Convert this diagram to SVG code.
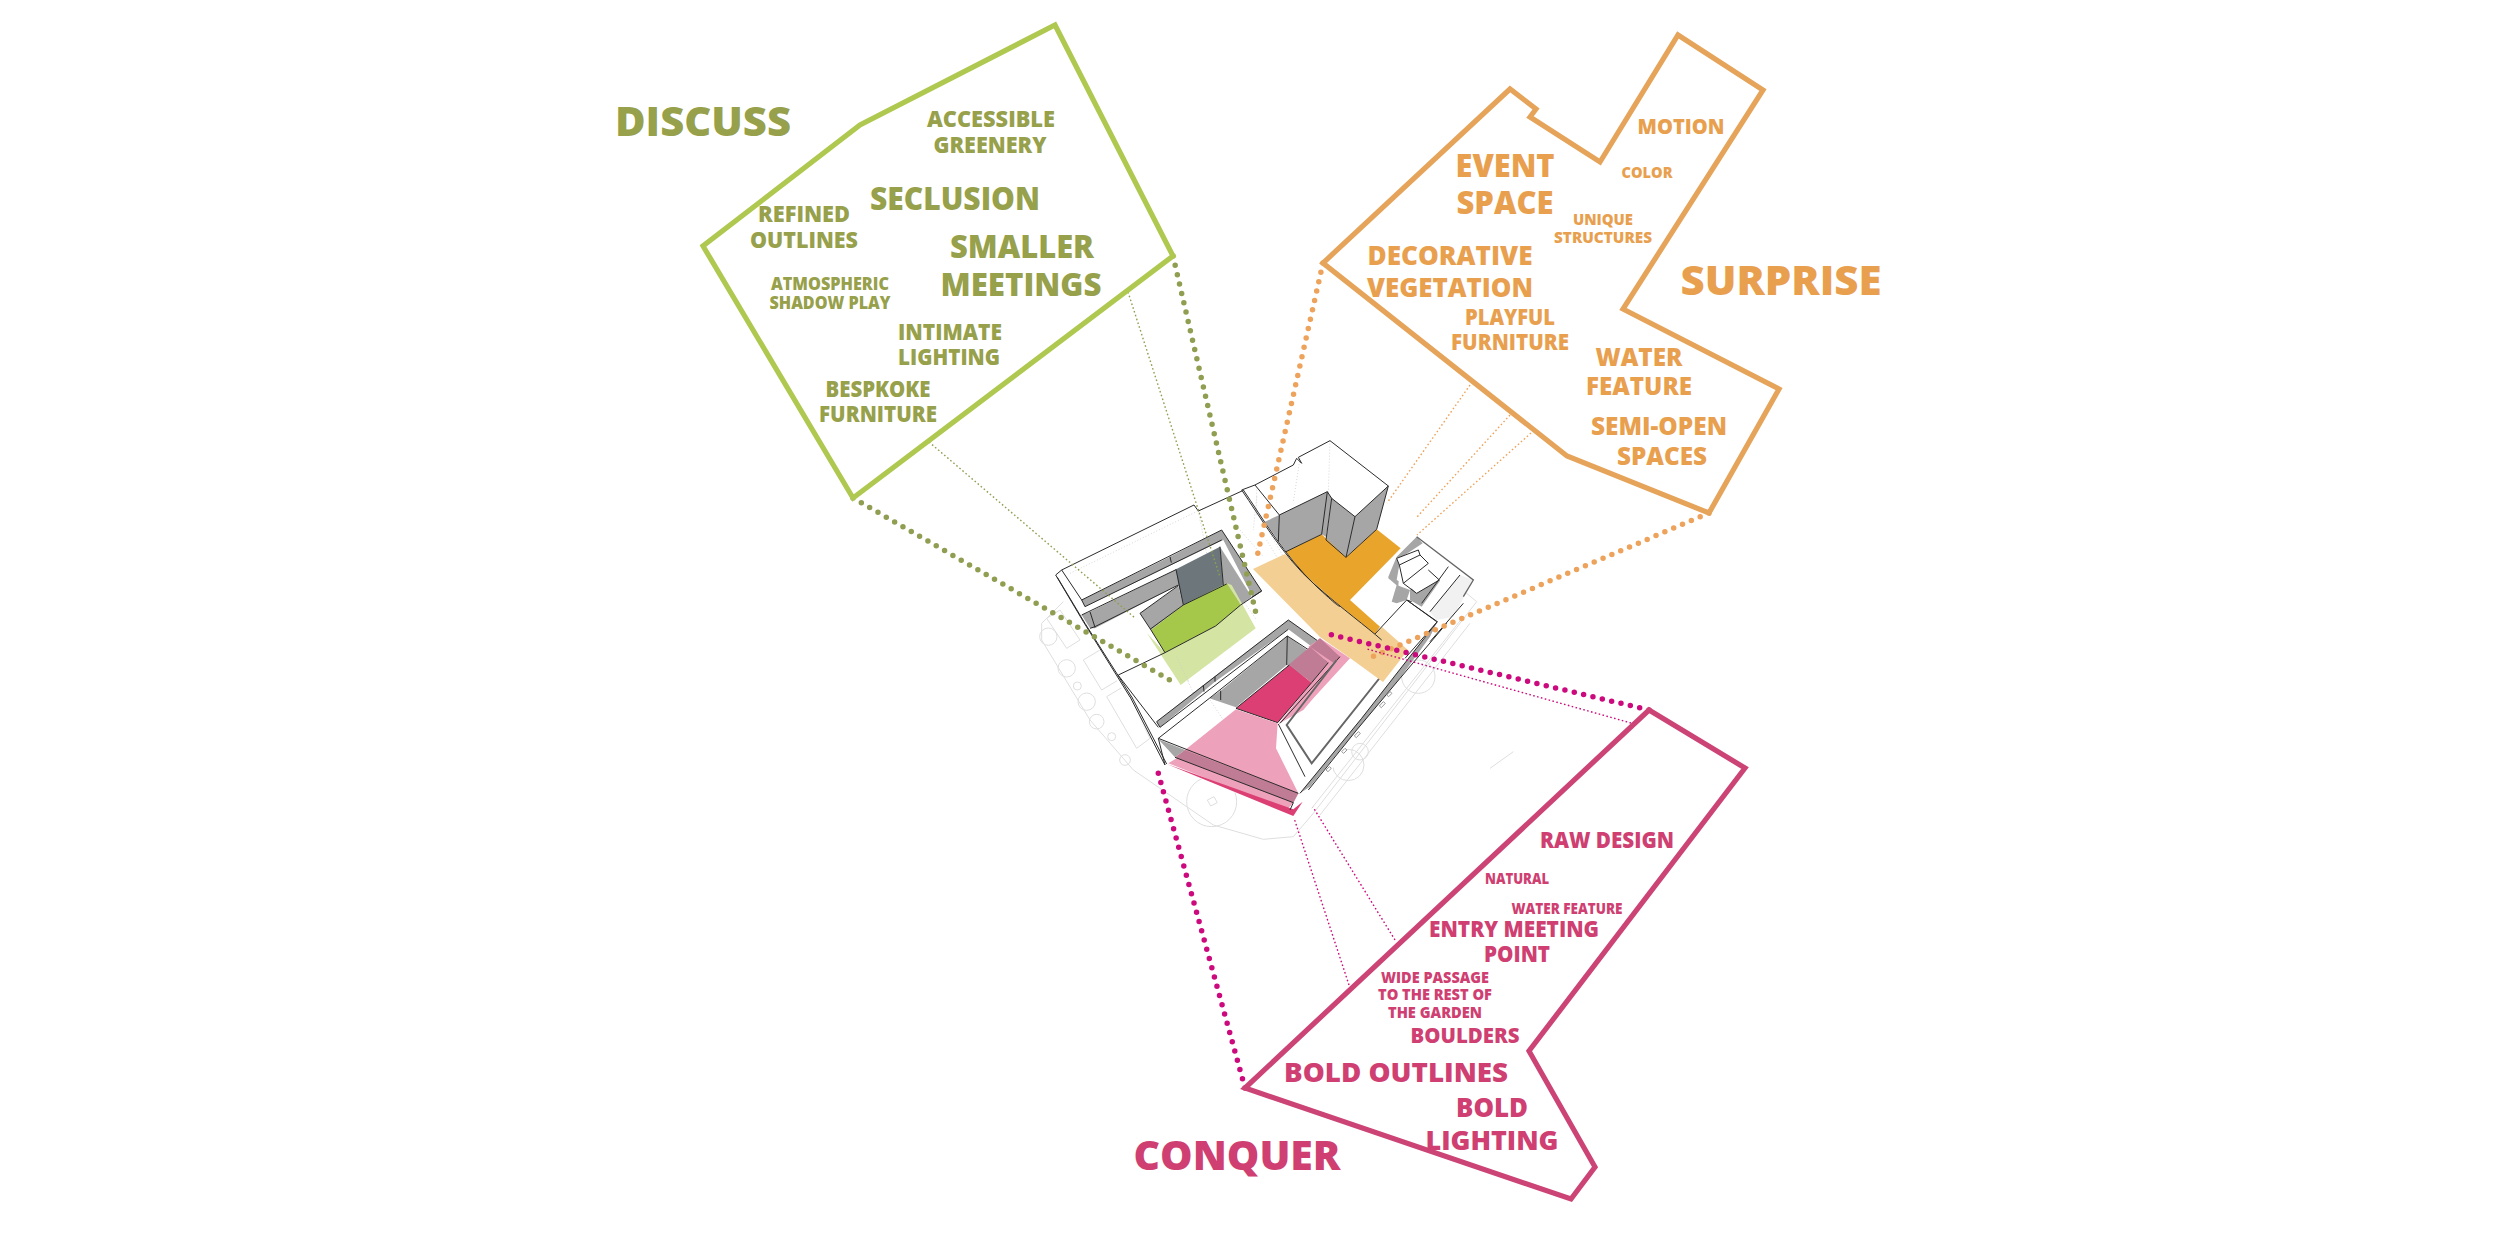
<svg xmlns="http://www.w3.org/2000/svg" width="2500" height="1250" viewBox="0 0 2500 1250">
<style>
text{font-family:"Open Sans","Noto Sans","Liberation Sans",sans-serif;font-weight:800;text-anchor:middle}
.g text{fill:#97a04a}.o text{fill:#e8a04f}.p text{fill:#cf3f72}
.frame{fill:none;stroke-width:5.2;stroke-linejoin:miter}
.g .frame{stroke:#afc850}.o .frame{stroke:#e5a45a}.p .frame{stroke:#cc4475}
.s40{font-size:40px}.s32{font-size:32px}.s31{font-size:31px}.s27{font-size:27px}.s25{font-size:25.5px}.s23{font-size:23px}.s22{font-size:22.5px}.s21{font-size:21.5px}.s17{font-size:17.5px}.s16{font-size:16.5px}.s15{font-size:15px}
.heavy{fill:none;stroke-width:5.5;stroke-linecap:round;stroke-dasharray:0 9.6}
.thin{fill:none;stroke-width:1.4;stroke-dasharray:1.6 2.4}
.cg{stroke:#8f9e50}.co{stroke:#eda35c}.cp{stroke:#cc0a7d}
.ug{fill:none;stroke:#dedede;stroke-width:3}
.k{fill:none;stroke:#2a2a2a;stroke-width:3;stroke-linejoin:round}
.kk{fill:none;stroke:#666;stroke-width:6;stroke-linejoin:miter}
.gh{fill:none;stroke:#cfcfcf;stroke-width:2.5;stroke-dasharray:3 6}
.gr{fill:#a6a6a6}.sl{fill:#6d777b}.w{fill:#fff}.f{fill:#f1f1f1}
</style>
<g id="site-plan">
<g id="underlay" class="ug" transform="translate(1000 420) scale(0.33333)">
<path d="M190 545L125 610L125 660L270 900L400 1050L640 1215L790 1258L880 1250L940 1180L1430 545L1140 305"/>
<path d="M935 1165L1390 590M960 1185L1410 610"/>
<circle cx="145" cy="650" r="26"/><circle cx="200" cy="745" r="26"/><circle cx="260" cy="845" r="26"/><circle cx="290" cy="905" r="22"/><circle cx="335" cy="950" r="12"/><circle cx="375" cy="1020" r="16"/><circle cx="232" cy="798" r="12"/>
<circle cx="635" cy="1145" r="75"/><circle cx="1045" cy="1035" r="47"/><circle cx="1080" cy="995" r="25"/><circle cx="1255" cy="770" r="50"/>
<path d="M622 1140l20-10 10 18-20 10zM180 570l60 90-40 25-60-90zM250 720l50-30 55 90-50 30zM320 830l50-30 80 155-40 30zM1470 1045l70-50"/>
</g>
<path class="w" d="M1056 575L1194 506L1200 510L1243 490L1297 465L1297 457L1330 441L1388 486L1417 537L1473 566L1474 582L1437 620L1300 815L1293 816L1166 765Z"/>
<g id="west-court" transform="translate(1050 490) scale(0.33333)">
<path class="gh" d="M445 63L470 190M620 20L610 120M485 200L620 390M60 250L470 50M620 60L700 200M405 480L415 580M490 420L480 520"/>
<path class="gr" d="M95 330L360 200L515 120L635 303L608 320L520 150L105 350Z"/>
<path class="k" d="M17 255L35 240L432 45L445 63L578 2M35 240L95 330L105 350L515 150M95 330L515 120L635 303L605 322M360 200L364 218M17 255L100 395L240 621M22 262L105 400L245 621"/>
<path class="gr" d="M95 375L120 365L380 238L385 285L135 415L120 415Z"/>
<path class="k" d="M95 375L380 238M120 415L135 410L385 285M120 365L135 412"/>
<path class="sl" d="M378 238L510 170L520 285L400 345L385 285Z"/>
<path class="gr" d="M510 170L605 320L572 345L520 280Z"/>
<path class="gr" d="M270 370L385 288L400 345L303 420Z"/>
<path fill="#d3e4a3" d="M290 428L345 488L497 408L572 345L530 280L545 285L617 415L392 585Z"/>
<path fill="#a6c84a" d="M303 420L400 345L530 280L572 345L497 408L345 488Z"/>
<path class="k" d="M270 370L303 420L345 488M270 370L385 287M378 238L400 345M510 170L520 285M345 488L497 408L572 345L635 303M205 555L345 488M300 418L400 345L530 282"/>
</g>
<g id="south-court" transform="translate(1130 620) scale(0.33333)">
<path class="gh" d="M240 240L300 330M300 310L430 345M140 110L200 240M400 350L390 480"/>
<path class="gr" d="M80 305L220 195L475 0L630 110L610 128L475 28L255 185L90 322Z"/>
<path class="gr" d="M238 235L272 212L472 48L470 135L318 262Z"/>
<path class="gr" d="M472 48L545 100L595 128L545 185L470 135Z"/>
<path class="k" d="M-36 165L85 322M80 305L90 322M80 305L475 0L630 110M90 322L475 28M238 235L472 48L470 135M472 48L595 128M272 212L272 240M220 195L222 215M255 185L255 170"/>
<path class="k" d="M0 230L105 435M5 230L110 432"/>
<path fill="#eea1ba" d="M570 55L660 115L550 235L520 270L445 312L545 188L595 128L535 80Z"/>
<path fill="#bf7c94" d="M478 133L540 80L595 128L545 188Z"/>
<path fill="#bf7c94" d="M570 55L630 110L610 128L540 80Z"/>
<path fill="#dc3f74" d="M318 265L478 135L545 188L443 308Z"/>
<path class="k" d="M318 265L478 135M545 188L443 308L318 265M595 128L545 188M630 110L450 310"/>
<path fill="#eea1ba" d="M165 390L318 268L443 310L438 385L505 520L490 548L470 570L115 430L140 415Z"/>
<path class="gr" d="M85 358L165 390L135 412L110 385Z"/>
<path fill="#bf7c94" d="M165 390L505 520L490 548L135 412Z"/>
<path fill="#dc3f74" d="M110 432L490 568L518 545L490 588Z"/>
<path class="k" d="M238 235L85 355L505 520M85 355L105 435M135 412L490 548M445 312L525 470M490 548L480 570"/>
<path class="kk" d="M620 120L470 315L545 430L780 135"/>
</g>
<path fill="#f3cf93" d="M1253 569L1285 554L1375 633L1382 627L1408 650L1383 682L1350 658L1320 637Z"/>
<g id="north-court" transform="translate(1240 430) scale(0.33333)">
<path class="gh" d="M180 85L160 215M270 32L265 190M50 170L50 260M80 330L110 380M0 300L70 380"/>
<path class="gr" d="M75 275L118 255L262 185L262 300L245 313L138 365Z"/>
<path class="gr" d="M262 185L275 205L258 320L245 313Z"/>
<path class="gr" d="M275 205L345 260L318 380L258 330Z"/>
<path class="gr" d="M345 260L445 168L410 298L318 380Z"/>
<path fill="#e9a42c" d="M138 365L245 313L318 382L410 298L482 355L330 510L420 590L405 612L280 510L190 430Z"/>
<path class="k" d="M5 180L45 165L160 105L170 85L185 100L175 82L270 32L445 168L410 298M45 165L118 255M118 255L262 185L275 205L345 260L445 168M118 255L115 335M262 185L245 313L138 365M275 205L258 330L318 382L345 260M318 382L410 298M5 180C60 260 130 380 220 460S380 590 425 630M10 180C65 260 135 380 225 465S290 520 300 530"/>
<path class="k" d="M405 612L500 510L590 575M500 510L515 515"/>
<path class="f" d="M660 435L700 450L640 560L590 570L570 545Z"/>
<path class="gr" d="M445 440L470 380L530 320L548 340L480 385L475 470L445 445Z"/>
<path class="gr" d="M455 515L470 465L510 480L500 510L470 520Z"/>
<path class="gr" d="M510 480L565 420L600 452L545 530L510 510Z"/>
<path class="w" d="M470 385L535 360L540 375L478 405ZM478 405L540 375L565 400L490 460L470 450ZM490 460L565 420L598 450L530 490L510 470Z"/>
<path class="k" d="M470 385L535 360L540 375L478 405L470 385M478 405L490 460L565 400L540 375M490 460L530 490L598 450L565 420"/>
<path class="k" d="M660 435L570 545M625 410L545 520"/>
<path class="kk" style="stroke-width:4" d="M530 320L700 450L670 500"/>
</g>
<g id="east-wall" transform="translate(1290 590) scale(0.33333)">
<path class="gr" d="M442 95L340 225L215 385L30 610L60 590L200 420L330 265L420 140Z"/>
<path class="k" d="M442 95L340 225L215 385L30 610M470 100L330 265L200 420L55 600M350 30L442 95L345 205M520 40L420 155"/>
<path class="k" style="stroke:#999" d="M280 335l-12 13 6 5 12-13zM205 425l-12 13 6 5 12-13zM165 475l-10 10 6 5 10-10zM118 530l-10 10 6 5 10-10zM300 305l-10 10 6 5 10-10z"/>
</g>
</g>
<g id="connectors">
<path class="heavy cg" d="M1173 256L1257 618M853 498L1175 683"/>
<path class="thin cg" d="M1128 292L1220 577M929 442L1135 618"/>
<path class="heavy co" d="M1323 263L1257 557M1709 513L1367 659"/>
<path class="thin co" d="M1470 385L1387 503M1510 415L1417 517M1531 433L1417 535"/>
<path class="heavy cp" d="M1649 710L1328 634M1245 1088L1156 765"/>
<path class="thin cp" d="M1631 723L1367 649M1395 940L1313 807M1349 985L1294 818"/>
</g>
<g id="discuss" class="g">
<path class="frame" d="M1055 25L1173 256L853 498L703 246L860 125Z"/>
<text class="s40" x="703" y="136" textLength="176" lengthAdjust="spacingAndGlyphs">DISCUSS</text>
<text class="s22" x="991" y="127" textLength="128" lengthAdjust="spacingAndGlyphs">ACCESSIBLE</text><text class="s22" x="990" y="153" textLength="113" lengthAdjust="spacingAndGlyphs">GREENERY</text>
<text class="s31" x="955" y="210" textLength="170" lengthAdjust="spacingAndGlyphs">SECLUSION</text>
<text class="s22" x="804" y="222" textLength="92" lengthAdjust="spacingAndGlyphs">REFINED</text><text class="s22" x="804" y="248" textLength="108" lengthAdjust="spacingAndGlyphs">OUTLINES</text>
<text class="s32" x="1022" y="258" textLength="144" lengthAdjust="spacingAndGlyphs">SMALLER</text><text class="s32" x="1021" y="296" textLength="161" lengthAdjust="spacingAndGlyphs">MEETINGS</text>
<text class="s17" x="830" y="290" textLength="118" lengthAdjust="spacingAndGlyphs">ATMOSPHERIC</text><text class="s17" x="830" y="309" textLength="121" lengthAdjust="spacingAndGlyphs">SHADOW PLAY</text>
<text class="s22" x="950" y="340" textLength="104" lengthAdjust="spacingAndGlyphs">INTIMATE</text><text class="s22" x="949" y="365" textLength="102" lengthAdjust="spacingAndGlyphs">LIGHTING</text>
<text class="s22" x="878" y="397" textLength="105" lengthAdjust="spacingAndGlyphs">BESPKOKE</text><text class="s22" x="878" y="422" textLength="118" lengthAdjust="spacingAndGlyphs">FURNITURE</text>
</g>
<g id="surprise" class="o">
<path class="frame" d="M1678 35L1763 90L1623 309L1779 389L1709 513L1567 456L1323 263L1510 89L1536 109L1530 117L1600 162Z"/>
<text class="s40" x="1781" y="295" textLength="201" lengthAdjust="spacingAndGlyphs">SURPRISE</text>
<text class="s21" x="1681" y="134" textLength="87" lengthAdjust="spacingAndGlyphs">MOTION</text>
<text class="s15" x="1647" y="178" textLength="51" lengthAdjust="spacingAndGlyphs">COLOR</text>
<text class="s31" x="1505" y="177" textLength="99" lengthAdjust="spacingAndGlyphs">EVENT</text><text class="s31" x="1505" y="214" textLength="97" lengthAdjust="spacingAndGlyphs">SPACE</text>
<text class="s16" x="1603" y="225" textLength="60" lengthAdjust="spacingAndGlyphs">UNIQUE</text><text class="s16" x="1603" y="243" textLength="98" lengthAdjust="spacingAndGlyphs">STRUCTURES</text>
<text class="s27" x="1450" y="265" textLength="165" lengthAdjust="spacingAndGlyphs">DECORATIVE</text><text class="s27" x="1450" y="297" textLength="166" lengthAdjust="spacingAndGlyphs">VEGETATION</text>
<text class="s22" x="1510" y="325" textLength="90" lengthAdjust="spacingAndGlyphs">PLAYFUL</text><text class="s22" x="1510" y="350" textLength="118" lengthAdjust="spacingAndGlyphs">FURNITURE</text>
<text class="s25" x="1639" y="366" textLength="87" lengthAdjust="spacingAndGlyphs">WATER</text><text class="s25" x="1639" y="395" textLength="106" lengthAdjust="spacingAndGlyphs">FEATURE</text>
<text class="s25" x="1659" y="435" textLength="136" lengthAdjust="spacingAndGlyphs">SEMI-OPEN</text><text class="s25" x="1662" y="465" textLength="90" lengthAdjust="spacingAndGlyphs">SPACES</text>
</g>
<g id="conquer" class="p">
<path class="frame" d="M1649 710L1745 768L1529 1051L1595 1167L1571 1199L1245 1088Z"/>
<text class="s40" x="1237" y="1170" textLength="207" lengthAdjust="spacingAndGlyphs">CONQUER</text>
<text class="s22" x="1607" y="848" textLength="134" lengthAdjust="spacingAndGlyphs">RAW DESIGN</text>
<text class="s15" x="1517" y="884" textLength="64" lengthAdjust="spacingAndGlyphs">NATURAL</text>
<text class="s15" x="1567" y="914" textLength="111" lengthAdjust="spacingAndGlyphs">WATER FEATURE</text>
<text class="s23" x="1514" y="937" textLength="170" lengthAdjust="spacingAndGlyphs">ENTRY MEETING</text><text class="s23" x="1517" y="962" textLength="66" lengthAdjust="spacingAndGlyphs">POINT</text>
<text class="s16" x="1435" y="983" textLength="108" lengthAdjust="spacingAndGlyphs">WIDE PASSAGE</text><text class="s16" x="1435" y="1000" textLength="114" lengthAdjust="spacingAndGlyphs">TO THE REST OF</text><text class="s16" x="1435" y="1018" textLength="94" lengthAdjust="spacingAndGlyphs">THE GARDEN</text>
<text class="s21" x="1465" y="1043" textLength="109" lengthAdjust="spacingAndGlyphs">BOULDERS</text>
<text class="s27" x="1396" y="1082" textLength="224" lengthAdjust="spacingAndGlyphs">BOLD OUTLINES</text>
<text class="s27" x="1492" y="1117" textLength="72" lengthAdjust="spacingAndGlyphs">BOLD</text><text class="s27" x="1492" y="1150" textLength="133" lengthAdjust="spacingAndGlyphs">LIGHTING</text>
</g>
</svg>
